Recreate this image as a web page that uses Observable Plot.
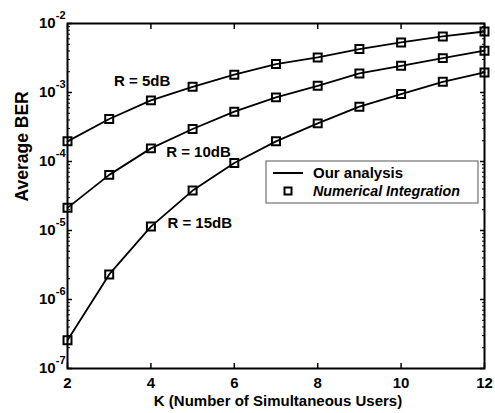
<!DOCTYPE html>
<html><head><meta charset="utf-8">
<script src="https://cdn.jsdelivr.net/npm/d3@7"></script>
<script src="https://cdn.jsdelivr.net/npm/@observablehq/plot@0.6"></script>
<style>body{margin:0;background:#fff}</style>
</head><body><div id="chart"></div>
<script>
// Data
const K = [2, 3, 4, 5, 6, 7, 8, 9, 10, 11, 12];
const ber5dB  = [1.96e-4, 4.13e-4, 7.69e-4, 1.21e-3, 1.81e-3, 2.58e-3, 3.22e-3, 4.26e-3, 5.31e-3, 6.49e-3, 7.66e-3];
const ber10dB = [2.13e-5, 6.4e-5, 1.55e-4, 2.96e-4, 5.27e-4, 8.5e-4, 1.25e-3, 1.89e-3, 2.44e-3, 3.15e-3, 4.03e-3];
const ber15dB = [2.56e-7, 2.31e-6, 1.14e-5, 3.79e-5, 9.5e-5, 1.96e-4, 3.57e-4, 6.23e-4, 9.5e-4, 1.43e-3, 1.95e-3];
const seriesNames = ["R = 5dB", "R = 10dB", "R = 15dB"];
const labelK   = [3.79, 5.14, 5.17];
const labelBER = [1.48e-3, 1.35e-4, 1.28e-5];
const xTicks = [2, 4, 6, 8, 10, 12];
const yTicks = [1e-7, 1e-6, 1e-5, 1e-4, 1e-3, 1e-2];
const yTickExponents = ["-7", "-6", "-5", "-4", "-3", "-2"];
const xLabel = "K (Number of Simultaneous Users)";
const yLabel = "Average BER";
const legendLabels = ["Our analysis", "Numerical Integration"];

const seriesValues = [ber5dB, ber10dB, ber15dB];
const rows = seriesValues.flatMap((vals, s) => K.map((k, i) => ({K: k, ber: vals[i], series: seriesNames[s]})));
const annotations = seriesNames.map((name, i) => ({name, K: labelK[i], ber: labelBER[i]}));
const minorTicks = d3.scaleLog().domain([1e-7, 1e-2]).ticks().filter(v => !yTicks.some(t => Math.abs(t - v) / t < 1e-9));
const expOf = new Map(yTicks.map((t, i) => [t, yTickExponents[i]]));

const font = "'Liberation Sans', Arial, sans-serif";
const chart = Plot.plot({
  width: 495, height: 413,
  marginLeft: 67, marginRight: 11, marginTop: 23, marginBottom: 45,
  style: {fontFamily: font, fontSize: "15px", fontWeight: "bold", background: "#fff", color: "#000"},
  x: {domain: [2, 12]},
  y: {type: "log", domain: [1e-7, 1e-2]},
  marks: [
    Plot.axisX(xTicks, {anchor: "bottom", tickSize: -5, tickPadding: 13.5, label: null, strokeWidth: 1.5}),
    Plot.axisX(xTicks, {anchor: "top", tickSize: -5, tickFormat: () => "", label: null, strokeWidth: 1.5}),
    Plot.axisY(yTicks, {anchor: "left", tickSize: -5, tickPadding: 7, label: null, strokeWidth: 1.5, tickFormat: d => "10^" + expOf.get(d)}),
    Plot.axisY(yTicks, {anchor: "right", tickSize: -5, tickFormat: () => "", label: null, strokeWidth: 1.5}),
    Plot.axisY(minorTicks, {anchor: "left", tickSize: -3, tickFormat: () => "", label: null}),
    Plot.axisY(minorTicks, {anchor: "right", tickSize: -3, tickFormat: () => "", label: null}),
    Plot.line(rows, {x: "K", y: "ber", z: "series", stroke: "#000", strokeWidth: 1.8}),
    Plot.dot(rows, {x: "K", y: "ber", symbol: "square", r: 4.5, stroke: "#000", strokeWidth: 2, fill: "none"}),
    Plot.text(annotations, {x: "K", y: "ber", text: "name"}),
    Plot.text([yLabel], {frameAnchor: "left", rotate: -90, dx: -45, dy: 5.5, fontSize: 17.5, text: d => d}),
    Plot.text([xLabel], {frameAnchor: "bottom", dy: 37, dx: 2, text: d => d}),
    Plot.frame({stroke: "#000", strokeWidth: 2})
  ]
});

// superscript exponents for the y tick labels
d3.select(chart).selectAll('g[aria-label="y-axis tick label"] text').each(function() {
  const s = this.textContent;
  if (!s.startsWith("10^")) return;
  const t = d3.select(this);
  t.text("10");
  t.append("tspan").attr("dy", "-9").attr("font-size", 11).text(s.slice(3));
});

// legend
const svg = d3.select(chart);
const lg = svg.append("g").attr("font-family", font).attr("font-size", 15).attr("font-weight", "bold").attr("text-anchor", "start");
lg.append("rect").attr("x", 266).attr("y", 161).attr("width", 212).attr("height", 42)
  .attr("fill", "#fff").attr("stroke", "#555").attr("stroke-width", 1);
lg.append("line").attr("x1", 273).attr("x2", 303).attr("y1", 173).attr("y2", 173)
  .attr("stroke", "#000").attr("stroke-width", 2);
lg.append("text").attr("x", 313).attr("y", 173).attr("dy", "0.35em").attr("text-anchor", "start").text(legendLabels[0]);
lg.append("rect").attr("x", 284.5).attr("y", 187.5).attr("width", 7).attr("height", 7)
  .attr("fill", "none").attr("stroke", "#000").attr("stroke-width", 2);
lg.append("text").attr("x", 313).attr("y", 191).attr("dy", "0.35em").attr("text-anchor", "start").attr("font-style", "italic").attr("font-size", 14.3).text(legendLabels[1]);

document.getElementById("chart").append(chart);
</script>
</body></html>
